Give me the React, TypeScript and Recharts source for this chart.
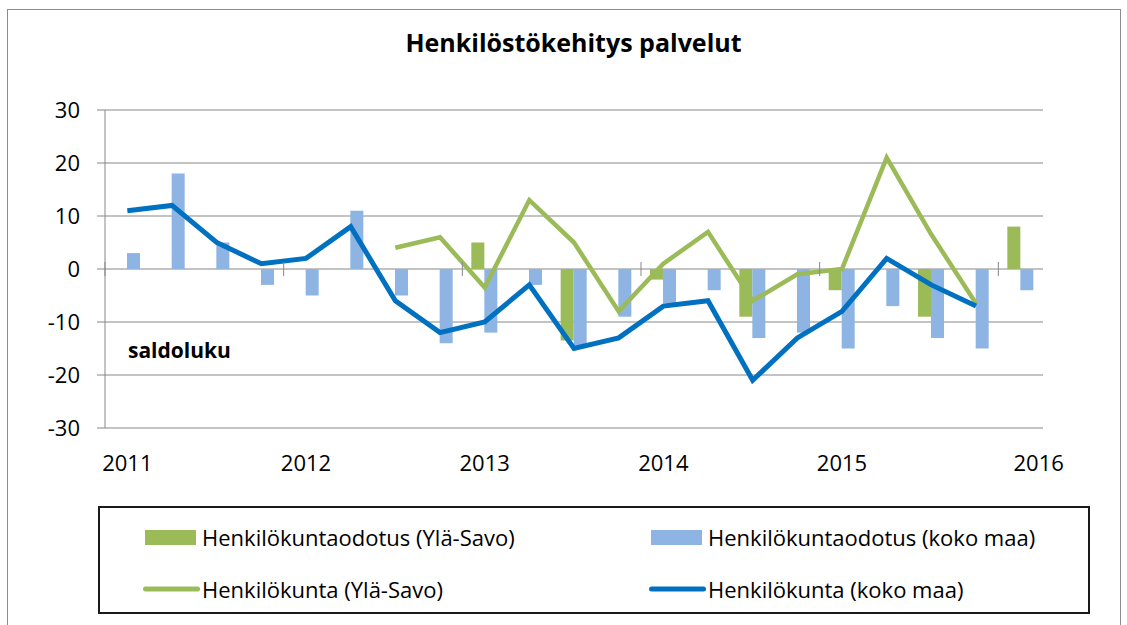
import React from 'react'
import {
  ComposedChart,
  Bar,
  Line,
  XAxis,
  YAxis,
  CartesianGrid,
  Legend,
} from 'recharts'

// quarterly observations, 2011Q1 .. 2016Q1
const quarters = [
  '2011Q1', '2011Q2', '2011Q3', '2011Q4',
  '2012Q1', '2012Q2', '2012Q3', '2012Q4',
  '2013Q1', '2013Q2', '2013Q3', '2013Q4',
  '2014Q1', '2014Q2', '2014Q3', '2014Q4',
  '2015Q1', '2015Q2', '2015Q3', '2015Q4',
  '2016Q1',
]

// Henkilökuntaodotus (Ylä-Savo) – only surveyed every other quarter
const expectYlaSavo = [
  null, null, null, null, null, null, null, null,
  5, null, -13.5, null, -2, null, -9, null, -4, null, -9, null, 8,
]

// Henkilökuntaodotus (koko maa)
const expectKokoMaa = [
  3, 18, 5, -3, -5, 11, -5, -14, -12, -3, -14.5, -9, -6.5, -4, -13, -12, -15, -7, -13, -15, -4,
]

// Henkilökunta (Ylä-Savo)
const staffYlaSavo = [
  null, null, null, null, null, null, 4, 6, -3.5, 13, 5, -8, 1, 7, -6, -1, 0, 21, 6.5, -6.5, null,
]

// Henkilökunta (koko maa)
const staffKokoMaa = [
  11, 12, 5, 1, 2, 8, -6, -12, -10, -3, -15, -13, -7, -6, -21, -13, -8, 2, -3, -7, null,
]

const yTicks = [-30, -20, -10, 0, 10, 20, 30]

const seriesNames = [
  'Henkilökuntaodotus (Ylä-Savo)',
  'Henkilökuntaodotus (koko maa)',
  'Henkilökunta (Ylä-Savo)',
  'Henkilökunta (koko maa)',
]

const data = quarters.map((q, i) => ({
  quarter: q,
  expectYlaSavo: expectYlaSavo[i],
  expectKokoMaa: expectKokoMaa[i],
  staffYlaSavo: staffYlaSavo[i],
  staffKokoMaa: staffKokoMaa[i],
}))

const W = 1127
const H = 625
const PLOT_LEFT = 105
const PLOT_RIGHT = 1043
const PLOT_TOP = 110
const PLOT_BOTTOM = 428
const ZERO_Y = (PLOT_TOP + PLOT_BOTTOM) / 2
const GRID = '#878787'
const FONT = "'Open Sans', sans-serif"

function YearTick(props: any) {
  const { x, payload, index } = props
  const label: string = payload.value
  if (!label.endsWith('Q1')) return <g />
  const band = (PLOT_RIGHT - PLOT_LEFT) / quarters.length
  const bx = x - band / 2
  const nudge = index === quarters.length - 1 ? 18 : 0
  return (
    <g>
      <line x1={bx} x2={bx} y1={ZERO_Y - 7} y2={ZERO_Y + 7} stroke={GRID} strokeWidth={1} />
      <text
        x={x + nudge}
        y={PLOT_BOTTOM + 43}
        textAnchor="middle"
        fontSize={22}
        fill="#000"
        fontFamily={FONT}
      >
        {label.slice(0, 4)}
      </text>
    </g>
  )
}

function LegendBox({ payload }: any) {
  const items = [...(payload ?? [])].sort(
    (a: any, b: any) => seriesNames.indexOf(a.value) - seriesNames.indexOf(b.value)
  )
  return (
    <div
      style={{
        boxSizing: 'border-box',
        width: 992,
        height: 108,
        border: '2px solid #1a1a1a',
        display: 'grid',
        gridTemplateColumns: '506px 1fr',
        gridTemplateRows: '52px 52px',
        paddingLeft: 45,
        paddingTop: 3,
        fontFamily: FONT,
        fontSize: 22,
        color: '#000',
        textAlign: 'left',
      }}
    >
      {items.map((it: any) => (
        <div key={it.value} style={{ display: 'flex', alignItems: 'center', whiteSpace: 'nowrap' }}>
          {it.type === 'line' ? (
            <svg width={57} height={16} style={{ marginLeft: -2, marginRight: 2 }}>
              <line x1={2.5} x2={54.5} y1={8} y2={8} stroke={it.color} strokeWidth={5} strokeLinecap="round" />
            </svg>
          ) : (
            <div style={{ width: 51, height: 15, background: it.color, marginRight: 6 }} />
          )}
          <span>{it.value}</span>
        </div>
      ))}
    </div>
  )
}

export default function App() {
  return (
    <div
      style={{
        position: 'absolute',
        left: 0,
        top: 0,
        width: W,
        height: H,
        background: '#fff',
        overflow: 'hidden',
        fontFamily: FONT,
      }}
    >
      <div
        style={{
          position: 'absolute',
          left: 7,
          top: 9,
          width: 1112,
          height: 700,
          border: '1px solid #8c8c8c',
        }}
      />
      <div
        style={{
          position: 'absolute',
          left: 0,
          width: W,
          top: 30,
          textAlign: 'center',
          paddingLeft: 20,
          boxSizing: 'border-box',
          fontSize: 25,
          lineHeight: '25px',
          fontWeight: 700,
          color: '#000',
        }}
      >
        Henkilöstökehitys palvelut
      </div>
      <ComposedChart
        width={W}
        height={H}
        data={data}
        barGap={0}
        margin={{ top: PLOT_TOP, right: W - PLOT_RIGHT, bottom: H - PLOT_BOTTOM - 30, left: 0 }}
      >
        <CartesianGrid vertical={false} stroke={GRID} strokeWidth={1} />
        <XAxis
          dataKey="quarter"
          height={30}
          interval={0}
          axisLine={false}
          tickLine={false}
          tick={<YearTick />}
        />
        <YAxis
          width={PLOT_LEFT}
          domain={[-30, 30]}
          ticks={yTicks}
          allowDataOverflow
          axisLine={{ stroke: GRID }}
          tickLine={{ stroke: GRID }}
          tickSize={8}
          tickMargin={17}
          tick={{ fontSize: 22, fill: '#000', fontFamily: FONT }}
        />
        <Bar
          dataKey="expectYlaSavo"
          name={seriesNames[0]}
          fill="#9BBB59"
          barSize={13}
          isAnimationActive={false}
        />
        <Bar
          dataKey="expectKokoMaa"
          name={seriesNames[1]}
          fill="#8EB4E3"
          barSize={13}
          isAnimationActive={false}
        />
        <Line
          dataKey="staffYlaSavo"
          name={seriesNames[2]}
          stroke="#9BBB59"
          strokeWidth={4.5}
          dot={false}
          activeDot={false}
          type="linear"
          isAnimationActive={false}
        />
        <Line
          dataKey="staffKokoMaa"
          name={seriesNames[3]}
          stroke="#0070C0"
          strokeWidth={5}
          dot={false}
          activeDot={false}
          type="linear"
          isAnimationActive={false}
        />
        <Legend
          layout="horizontal"
          verticalAlign="middle"
          align="center"
          wrapperStyle={{ left: 98, top: 506, width: 992, height: 108 }}
          content={<LegendBox />}
        />
      </ComposedChart>
      <div
        style={{
          position: 'absolute',
          left: 128,
          top: 340,
          fontSize: 21,
          lineHeight: '21px',
          fontWeight: 700,
          color: '#000',
        }}
      >
        saldoluku
      </div>
    </div>
  )
}
